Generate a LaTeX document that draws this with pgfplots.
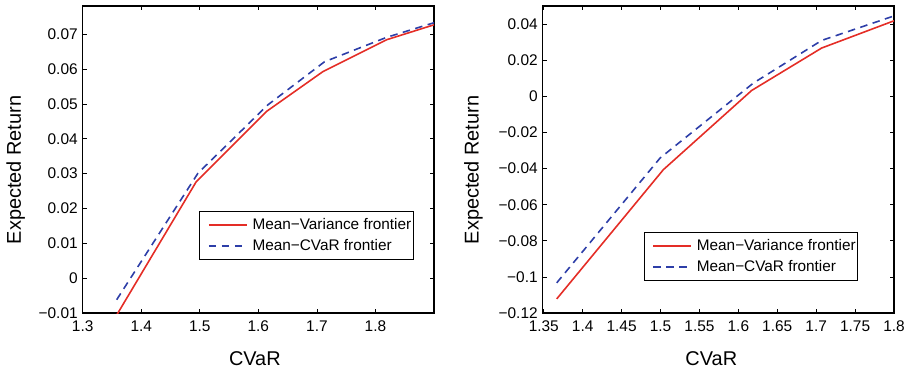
\documentclass[border=0pt]{standalone}
\usepackage{fontspec}
\setmainfont{Liberation Sans}
\usepackage{pgfplots}
\pgfplotsset{compat=1.18}
\definecolor{mred}{RGB}{228,45,38}
\definecolor{mblue}{RGB}{45,62,168}
\begin{document}
\begin{tikzpicture}
\useasboundingbox (0,0) rectangle (918bp,373bp);
\pgfplotsset{
  mstyle/.style={
    scale only axis, width=351.3bp, height=307bp,
    scaled ticks=false,
    axis line style={line width=1.1pt, black},
    tick style={line width=0.8pt, black},
    major tick length=4bp,
    tick align=inside,
    xtick pos=both, ytick pos=both,
    xticklabel pos=left, yticklabel pos=left,
    tick label style={font=\fontsize{15.5}{18}\selectfont},
    label style={font=\fontsize{20}{24}\selectfont},
    xticklabel style={yshift=-4pt},
    yticklabel style={xshift=-1.5pt},
    xlabel={CVaR}, ylabel={Expected Return},
    legend cell align=left,
    legend image code/.code={\draw[draw=none] (0bp,0bp) -- (6.7bp,0bp); \draw[##1, line width=2bp] (6.7bp,0bp) -- (44.7bp,0bp);},
    legend style={anchor=north west, draw=black, line width=1pt,
      inner xsep=2.3bp, inner ysep=6.5bp, row sep=8.4bp, column sep=4.7bp,
      font=\fontsize{15.4}{18}\selectfont,
      nodes={inner sep=0pt, text depth=0.2em}},
  },
  redline/.style={color=mred, line width=1.6pt, solid},
  blueline/.style={color=mblue, line width=1.6pt, dash pattern=on 7.5bp off 5.5bp},
}
\begin{axis}[mstyle,
  at={(82.7bp,60bp)}, anchor=south west,
  xmin=1.3, xmax=1.9, ymin=-0.01, ymax=0.0781,
  xtick={1.3,1.4,1.5,1.6,1.7,1.8},
  xticklabels={1.3,1.4,1.5,1.6,1.7,1.8},
  ytick={-0.01,0,0.01,0.02,0.03,0.04,0.05,0.06,0.07},
  yticklabels={−0.01,0,0.01,0.02,0.03,0.04,0.05,0.06,0.07},
  xlabel style={at={(axis description cs:0.49,-0.15)}, anchor=center},
  ylabel style={at={(axis description cs:-0.191,0.466)}, anchor=center},
  legend style={at={(axis description cs:0.332,0.332)}},
]
\addplot[redline] coordinates {(1.358,-0.0106) (1.494,0.0277) (1.6136,0.0478) (1.7105,0.0593) (1.8188,0.0684) (1.9,0.0727)};
\addlegendentry{Mean−Variance frontier}
\addplot[blueline] coordinates {(1.358,-0.0062) (1.4968,0.0301) (1.616,0.0497) (1.713,0.0621) (1.819,0.0691) (1.9,0.0733)};
\addlegendentry{Mean−CVaR frontier}
\end{axis}
\begin{axis}[mstyle,
  at={(542.7bp,60bp)}, anchor=south west,
  xmin=1.3486, xmax=1.8, ymin=-0.12, ymax=0.0501,
  xtick={1.35,1.4,1.45,1.5,1.55,1.6,1.65,1.7,1.75,1.8},
  xticklabels={1.35,1.4,1.45,1.5,1.55,1.6,1.65,1.7,1.75,1.8},
  ytick={-0.12,-0.1,-0.08,-0.06,-0.04,-0.02,0,0.02,0.04},
  yticklabels={−0.12,−0.1,−0.08,−0.06,−0.04,−0.02,0,0.02,0.04},
  xlabel style={at={(axis description cs:0.48,-0.15)}, anchor=center},
  ylabel style={at={(axis description cs:-0.197,0.466)}, anchor=center},
  legend style={at={(axis description cs:0.2875,0.263)}},
]
\addplot[redline] coordinates {(1.3666,-0.1122) (1.5036,-0.0406) (1.6171,0.0033) (1.707,0.0268) (1.8,0.0419)};
\addlegendentry{Mean−Variance frontier}
\addplot[blueline] coordinates {(1.3666,-0.1033) (1.4995,-0.0341) (1.6193,0.0074) (1.707,0.031) (1.8,0.0446)};
\addlegendentry{Mean−CVaR frontier}
\end{axis}
\end{tikzpicture}
\end{document}
